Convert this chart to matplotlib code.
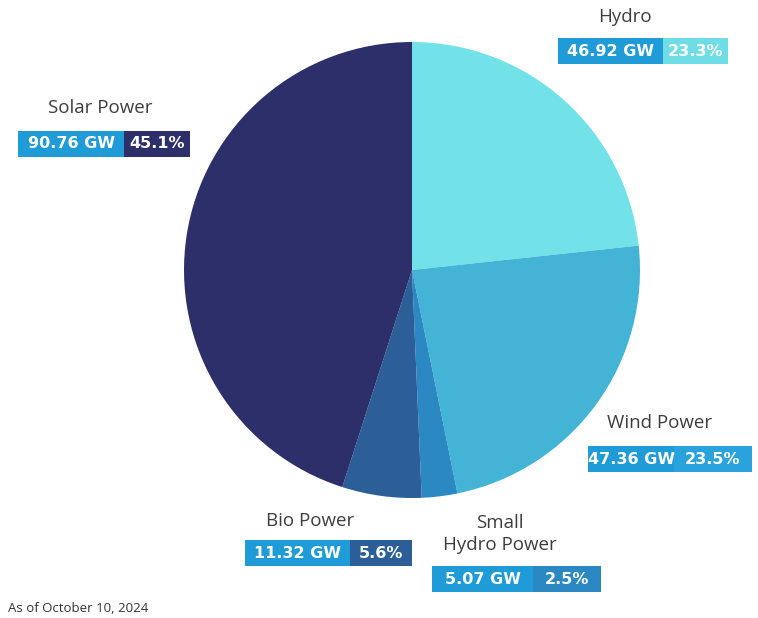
import matplotlib.pyplot as plt
from matplotlib.patches import Rectangle

# data
sources = ["Hydro", "Wind Power", "Small\nHydro Power", "Bio Power", "Solar Power"]
capacity_gw = [46.92, 47.36, 5.07, 11.32, 90.76]
share_pct = ["23.3%", "23.5%", "2.5%", "5.6%", "45.1%"]
gw_labels = ["46.92 GW", "47.36 GW", "5.07 GW", "11.32 GW", "90.76 GW"]
slice_colors = ["#72e2e8", "#44b4d6", "#2b88c2", "#2c5f98", "#2c2f6a"]
pct_box_colors = ["#6fdde6", "#2aa3dc", "#2b88c2", "#2c5f98", "#2c2f6a"]
note = "As of October 10, 2024"

W, H = 758, 618
fig = plt.figure(figsize=(W / 100, H / 100), dpi=100)
ax = fig.add_axes([0, 0, 1, 1])

ax.pie(capacity_gw, colors=slice_colors, startangle=90, counterclock=False,
       center=(412, H - 270), radius=228, frame=True,
       wedgeprops=dict(linewidth=0))
ax.set_xlim(0, W)
ax.set_ylim(0, H)
ax.set_aspect("equal")
ax.axis("off")

# label layout: (title x, title y, box x0, box split, box x1, box top y) in pixels from top-left
layout = [
    (625, 17, 558, 663, 728, 38),
    (660, 423, 588, 674, 752, 446),
    (500, 534, 432, 533, 601, 566),
    (310, 521, 245, 350, 412, 540),
    (100, 108, 18, 124, 190, 131),
]
gw_blue = "#1f9bd7"
box_h = 26

for name, gw, pct, pc, (tx, ty, x0, xs, x1, by) in zip(
        sources, gw_labels, share_pct, pct_box_colors, layout):
    ax.text(tx, H - ty, name, ha="center", va="center", fontsize=13.5,
            color="#3d3d3d", family="Open Sans", linespacing=1.35)
    ax.add_patch(Rectangle((x0, H - by - box_h), xs - x0, box_h, color=gw_blue, lw=0))
    ax.add_patch(Rectangle((xs, H - by - box_h), x1 - xs, box_h, color=pc, lw=0))
    ax.text((x0 + xs) / 2, H - by - box_h / 2, gw, ha="center", va="center",
            fontsize=11.5, color="white", fontweight="bold", family="DejaVu Sans")
    ax.text((xs + x1) / 2, H - by - box_h / 2, pct, ha="center", va="center",
            fontsize=11.5, color="white", fontweight="bold", family="DejaVu Sans")

ax.text(8, H - 608, note, ha="left", va="center", fontsize=9.5,
        color="#333333", family="Open Sans")

fig.savefig("out.png", dpi=100)
